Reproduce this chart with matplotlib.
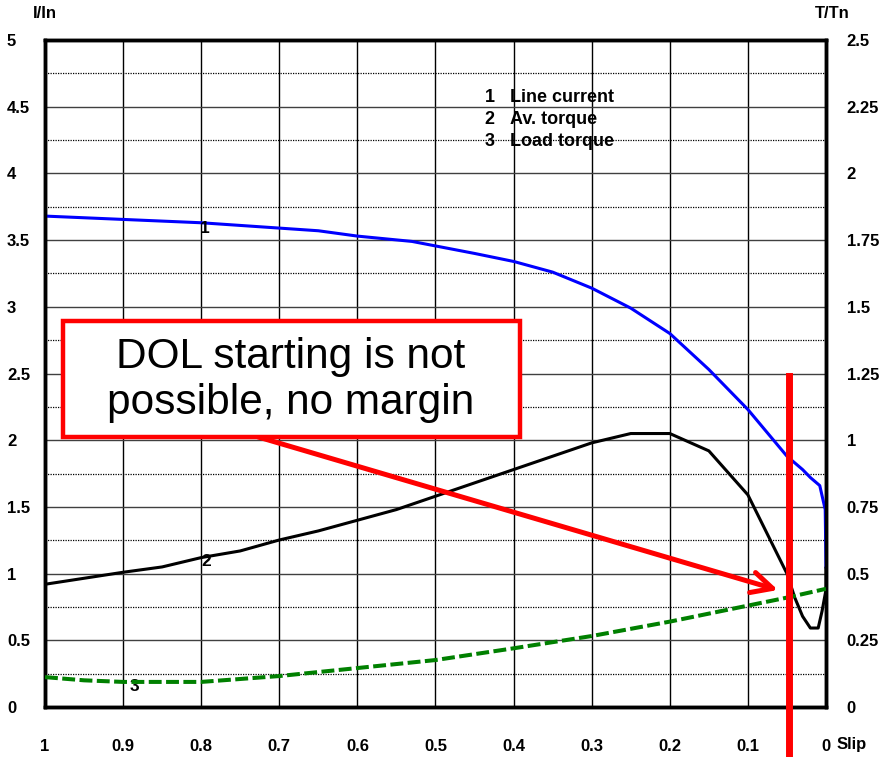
import matplotlib.pyplot as plt
import numpy as np

plt.rcParams['font.family'] = ['Liberation Sans', 'DejaVu Sans']

# slip values (x axis runs from 1 down to 0)
slip_current = [1.0, 0.8, 0.65, 0.6, 0.53, 0.45, 0.4, 0.35, 0.3, 0.25, 0.2, 0.15,
                0.1, 0.05, 0.03, 0.02, 0.008, 0.001, 0.0]
line_current = [3.68, 3.63, 3.57, 3.53, 3.49, 3.40, 3.34, 3.26, 3.14, 2.99, 2.80, 2.53,
                2.23, 1.88, 1.78, 1.72, 1.66, 1.48, 1.05]

slip_torque = [1.0, 0.9, 0.85, 0.8, 0.75, 0.7, 0.65, 0.6, 0.55, 0.5, 0.45, 0.4, 0.35,
               0.3, 0.25, 0.2, 0.15, 0.1, 0.05, 0.04, 0.03, 0.02, 0.01, 0.005, 0.0, 0.0]
av_torque = [0.46, 0.505, 0.525, 0.56, 0.585, 0.626, 0.66, 0.70, 0.74, 0.79, 0.84, 0.89,
             0.94, 0.99, 1.025, 1.025, 0.96, 0.795, 0.50, 0.41, 0.34, 0.296, 0.296, 0.36,
             0.44, 0.52]

slip_load = [1.0, 0.95, 0.9, 0.8, 0.7, 0.6, 0.5, 0.4, 0.3, 0.2, 0.1, 0.05, 0.0]
load_torque = [0.112, 0.10, 0.094, 0.094, 0.116, 0.146, 0.176, 0.22, 0.266, 0.32, 0.38,
               0.41, 0.443]

x_ticks = [1, 0.9, 0.8, 0.7, 0.6, 0.5, 0.4, 0.3, 0.2, 0.1, 0]
x_labels = ['1', '0.9', '0.8', '0.7', '0.6', '0.5', '0.4', '0.3', '0.2', '0.1', '0']
i_ticks = [0, 0.5, 1, 1.5, 2, 2.5, 3, 3.5, 4, 4.5, 5]
i_labels = ['0', '0.5', '1', '1.5', '2', '2.5', '3', '3.5', '4', '4.5', '5']
t_ticks = [0, 0.25, 0.5, 0.75, 1, 1.25, 1.5, 1.75, 2, 2.25, 2.5]
t_labels = ['0', '0.25', '0.5', '0.75', '1', '1.25', '1.5', '1.75', '2', '2.25', '2.5']

legend_nums = ['1', '2', '3']
legend_names = ['Line current', 'Av. torque', 'Load torque']

fig = plt.figure(figsize=(8.95, 7.57), dpi=100)
ax = fig.add_axes([45 / 895, 50 / 757, 781 / 895, 667 / 757])
ax.set_xlim(1, 0)
ax.set_ylim(0, 5)

# grid
ax.set_xticks(x_ticks)
ax.set_xticklabels(x_labels)
ax.set_yticks(i_ticks)
ax.set_yticklabels(i_labels)
ax.set_yticks(np.arange(0.25, 5, 0.5), minor=True)
ax.grid(which='major', axis='x', color='black', lw=1.0)
ax.grid(which='major', axis='y', color='#404040', lw=1.0)
ax.grid(which='minor', axis='y', color='black', lw=0.9, linestyle=(0, (1, 1)))
ax.tick_params(which='both', length=0)
ax.tick_params(axis='x', pad=23, labelsize=12)
ax.tick_params(axis='y', pad=27.4, labelsize=12)
for lab in ax.get_yticklabels():
    lab.set_horizontalalignment('left')
    lab.set_fontweight('bold')
for lab in ax.get_xticklabels():
    lab.set_fontweight('bold')
for s in ax.spines.values():
    s.set_linewidth(2.5)

ax.plot(slip_current, line_current, color='#0000ff', lw=2.2, zorder=3)

ax2 = ax.twinx()
ax2.set_ylim(0, 2.5)
ax2.set_yticks(t_ticks)
ax2.set_yticklabels(t_labels, fontweight='bold')
ax2.tick_params(length=0, pad=15, labelsize=12)
for s in ax2.spines.values():
    s.set_linewidth(2.5)

ax2.plot(slip_torque, av_torque, color='black', lw=2.2, zorder=3)
ax2.plot(slip_load, load_torque, color='#008000', lw=2.9, linestyle=(0, (3.2, 1.1)), zorder=3)

# curve numbers
ax.text(0.795, 3.59, '1', fontsize=12.5, fontweight='bold', ha='center', va='center')
ax.text(0.794, 1.087, '2', fontsize=12.5, fontweight='bold', ha='center', va='center')
ax.text(0.886, 0.157, '3', fontsize=12.5, fontweight='bold', ha='center', va='center')

# legend
for k, (n, name) in enumerate(zip(legend_nums, legend_names)):
    ax.text(0.437, 4.57 - k * 0.165, n, fontsize=13, fontweight='bold', va='center')
    ax.text(0.405, 4.57 - k * 0.165, name, fontsize=13, fontweight='bold', va='center')

# axis titles
fig.text(33 / 895, 1 - 14 / 757, 'I/In', fontsize=12, fontweight='bold', va='center')
fig.text(815 / 895, 1 - 14 / 757, 'T/Tn', fontsize=12, fontweight='bold', va='center')
fig.text(837 / 895, 1 - 745 / 757, 'Slip', fontsize=12, fontweight='bold', va='center')

# annotation: red vertical line, box and arrow
ax2.plot([0.047, 0.047], [1.24, -0.19], color='#ff0000', lw=5, clip_on=False, zorder=5)
ax2.add_patch(plt.Rectangle((0.392, 1.012), 0.977 - 0.392, 0.435, transform=ax2.transData,
                            facecolor='white', edgecolor='#ff0000', lw=3.2, zorder=6))
ax2.text(0.685, 1.225, 'DOL starting is not\npossible, no margin', fontsize=30.5,
         ha='center', va='center', linespacing=1.2, zorder=7)
ax2.annotate('', xy=(0.0615, 0.4385), xytext=(0.727, 1.012),
             arrowprops=dict(arrowstyle='->,head_length=1.5,head_width=0.75',
                             color='#ff0000', lw=3.6, shrinkA=0, shrinkB=0), zorder=5)

fig.savefig('out.png', dpi=100)
